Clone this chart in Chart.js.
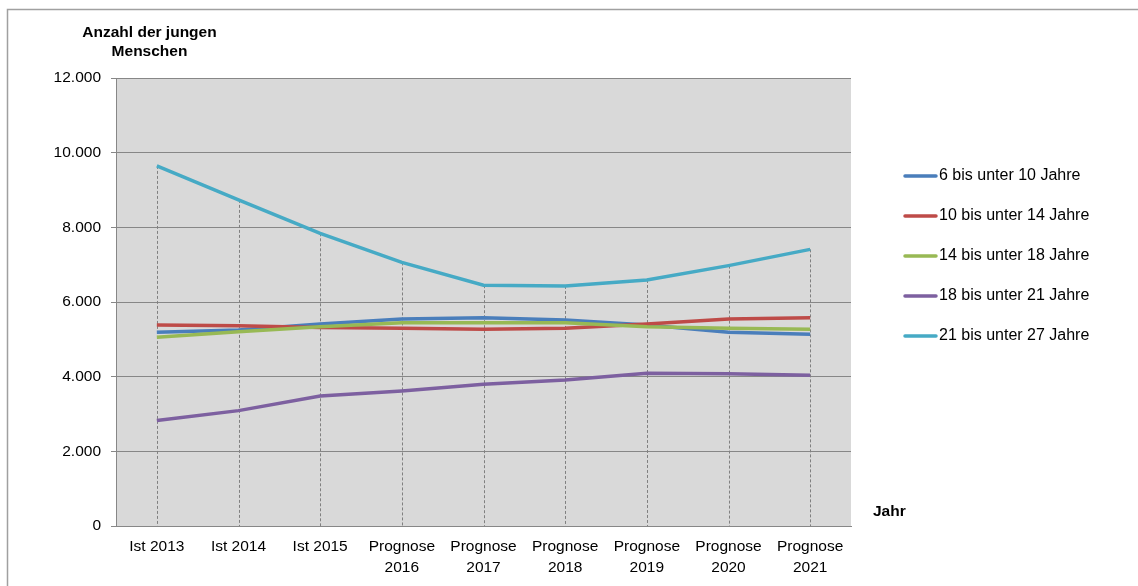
<!DOCTYPE html>
<html>
<head>
<meta charset="utf-8">
<script src="https://cdn.jsdelivr.net/npm/chart.js@4"></script>
<style>
  html, body { margin: 0; padding: 0; background: #fff; }
  #wrap { width: 1138px; height: 586px; position: relative; }
</style>
</head>
<body>
<div id="wrap"><canvas id="chart"></canvas></div>
<script>
// categories
let years = ['Ist 2013', 'Ist 2014', 'Ist 2015', ['Prognose', '2016'], ['Prognose', '2017'],
  ['Prognose', '2018'], ['Prognose', '2019'], ['Prognose', '2020'], ['Prognose', '2021']];

// series values
let age6to10  = [5190, 5250, 5410, 5545, 5580, 5520, 5385, 5190, 5135];
let age10to14 = [5385, 5365, 5320, 5295, 5270, 5295, 5410, 5545, 5580];
let age14to18 = [5055, 5205, 5340, 5445, 5445, 5445, 5340, 5295, 5270];
let age18to21 = [2825, 3090, 3480, 3615, 3795, 3910, 4090, 4075, 4040];
let age21to27 = [9645, 8735, 7840, 7060, 6450, 6430, 6590, 6975, 7410];

let seriesNames = ['6 bis unter 10 Jahre', '10 bis unter 14 Jahre', '14 bis unter 18 Jahre',
  '18 bis unter 21 Jahre', '21 bis unter 27 Jahre'];
let seriesData = [age6to10, age10to14, age14to18, age18to21, age21to27];
let seriesColors = ['#4a7ebb', '#be4b48', '#98b954', '#7d60a0', '#46aac5'];

let yTicks = [0, 2000, 4000, 6000, 8000, 10000, 12000];

const FONT = 'Liberation Sans, Arial, sans-serif';
const GRID = '#878787';

function formatDE(v) {
  return String(v).replace(/\B(?=(\d{3})+(?!\d))/g, '.');
}

let datasets = seriesData.map(function(d, i) {
  return {
    label: seriesNames[i],
    data: d,
    borderColor: seriesColors[i],
    backgroundColor: seriesColors[i],
    borderWidth: 3.5,
    pointRadius: 0,
    tension: 0,
    fill: false,
    order: 5 - i
  };
});

// background, border, drop lines, titles, legend
let decor = {
  id: 'decor',
  beforeDraw: function(chart) {
    let ctx = chart.ctx, a = chart.chartArea;
    ctx.save();
    ctx.fillStyle = '#fff';
    ctx.fillRect(0, 0, chart.width, chart.height);
    ctx.strokeStyle = '#a0a0a0';
    ctx.lineWidth = 1.5;
    ctx.strokeRect(7.5, 9.5, chart.width + 20, chart.height + 20);
    ctx.fillStyle = '#d9d9d9';
    ctx.fillRect(a.left, a.top, a.right - a.left, a.bottom - a.top);
    ctx.restore();
  },
  beforeDatasetsDraw: function(chart) {
    let ctx = chart.ctx, a = chart.chartArea;
    let x = chart.scales.x;
    ctx.save();
    ctx.strokeStyle = '#808080';
    ctx.lineWidth = 1;
    ctx.setLineDash([3, 2]);
    for (let i = 0; i < years.length; i++) {
      let top = a.bottom;
      chart.data.datasets.forEach(function(ds, k) {
        let p = chart.getDatasetMeta(k).data[i];
        if (p && p.y < top) top = p.y;
      });
      let px = Math.round(x.getPixelForValue(i)) + 0.5;
      ctx.beginPath();
      ctx.moveTo(px, top);
      ctx.lineTo(px, a.bottom);
      ctx.stroke();
    }
    ctx.restore();
  },
  afterDraw: function(chart) {
    let ctx = chart.ctx;
    ctx.save();
    ctx.fillStyle = '#000';
    ctx.font = 'bold 15.5px ' + FONT;
    ctx.textAlign = 'center';
    ctx.textBaseline = 'middle';
    ctx.fillText('Anzahl der jungen', 149.5, 32.5);
    ctx.fillText('Menschen', 149.5, 51.5);
    ctx.textAlign = 'left';
    ctx.fillText('Jahr', 873, 512);

    // legend
    ctx.font = '16px ' + FONT;
    for (let i = 0; i < seriesNames.length; i++) {
      let y = 176 + i * 40;
      ctx.strokeStyle = seriesColors[i];
      ctx.lineWidth = 3.5;
      ctx.lineCap = 'round';
      ctx.beginPath();
      ctx.moveTo(905, y);
      ctx.lineTo(936, y);
      ctx.stroke();
      ctx.fillStyle = '#000';
      ctx.fillText(seriesNames[i], 939, y);
    }
    ctx.restore();
  }
};

new Chart(document.getElementById('chart'), {
  type: 'line',
  data: { labels: years, datasets: datasets },
  options: {
    responsive: true,
    maintainAspectRatio: false,
    animation: false,
    layout: { padding: { left: 0, top: 78, right: 287, bottom: 0 } },
    plugins: {
      legend: { display: false },
      tooltip: { enabled: false }
    },
    scales: {
      x: {
        offset: true,
        grid: { display: false, drawTicks: false },
        border: { display: true, color: GRID, width: 1 },
        ticks: {
          color: '#000',
          font: { family: FONT, size: 15.5, lineHeight: 1.35 },
          padding: 10,
          maxRotation: 0,
          autoSkip: false
        },
        afterFit: function(s) { s.height = 60; }
      },
      y: {
        min: 0,
        max: 12000,
        afterBuildTicks: function(s) { s.ticks = yTicks.map(function(v) { return { value: v }; }); },
        grid: { color: GRID, lineWidth: 1, tickLength: 5, drawTicks: true },
        border: { display: true, color: GRID, width: 1 },
        ticks: {
          color: '#000',
          font: { family: FONT, size: 15.5 },
          padding: 10,
          callback: function(v) { return formatDE(v); }
        },
        afterFit: function(s) { s.width = 116; }
      }
    }
  },
  plugins: [decor]
});
</script>
</body>
</html>
